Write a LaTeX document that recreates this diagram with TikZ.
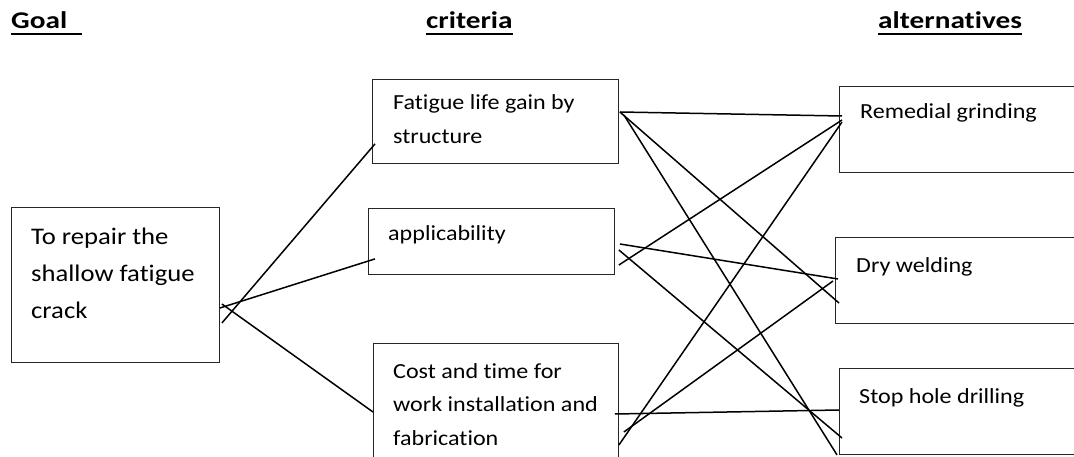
\documentclass[tikz,border=0pt]{standalone}
\usepackage{fontspec}
\setmainfont{Carlito}[FakeStretch=1.12,Ligatures=NoCommon]
\newfontfamily\hdfont{Carlito}[FakeStretch=1.22,Ligatures=NoCommon]
\begin{document}
\begin{tikzpicture}[x=1pt,y=-1pt,
  box/.style={draw=black!85, line width=0.9pt, rectangle, inner sep=0pt, anchor=north west},
  lbl/.style={anchor=base west, inner sep=0pt, align=left, font=\fontsize{21.5}{33.5}\selectfont},
  goallbl/.style={anchor=base west, inner sep=0pt, align=left, font=\fontsize{23.8}{37}\selectfont},
  hdr/.style={anchor=base west, inner sep=0pt, font=\hdfont\bfseries\fontsize{24}{28}\selectfont},
  uline/.style={line width=2pt},
  link/.style={line width=1.5pt, black}]
\useasboundingbox (0,0) rectangle (1074,457);
\clip (0,0) rectangle (1074,457);
% headers
\node[hdr] (hgoal) at (11,28.3) {Goal};
\node[hdr] (hcrit) at (426,28.3) {criteria};
\node[hdr] (halt) at (878,28.3) {alternatives};
\draw[uline] ([yshift=-6pt]hgoal.base west) -- ([xshift=15pt,yshift=-6pt]hgoal.base east);
\draw[uline] ([yshift=-6pt]hcrit.base west) -- ([yshift=-6pt]hcrit.base east);
\draw[uline] ([yshift=-6pt]halt.base west) -- ([yshift=-6pt]halt.base east);
% boxes
\node[box, minimum width=208pt, minimum height=155pt] (goal) at (11,207) {};
\node[box, minimum width=246pt, minimum height=84pt] (fat) at (372,79) {};
\node[box, minimum width=246pt, minimum height=66pt] (app) at (368,208) {};
\node[box, minimum width=245pt, minimum height=130pt] (cost) at (373,343) {};
\node[box, minimum width=260pt, minimum height=86pt] (rg) at (839,86) {};
\node[box, minimum width=260pt, minimum height=86pt] (dw) at (835,237) {};
\node[box, minimum width=260pt, minimum height=86pt] (sh) at (839,368) {};
% labels (base = last line)
\node[goallbl] (tgoal) at (31,318.3) {To repair the\\shallow fatigue\\crack};
\node[lbl] (tfat) at (393,143.3) {Fatigue life gain by\\structure};
\node[lbl] (tapp) at (388,241) {applicability};
\node[lbl] (tcost) at (393,445) {Cost and time for\\work installation and\\fabrication};
\node[lbl] (trg) at (860,119) {Remedial grinding};
\node[lbl] (tdw) at (856,272.7) {Dry welding};
\node[lbl] (tsh) at (859,403.3) {Stop hole drilling};
% goal to criteria
\draw[link] ([shift={(2,116)}]goal.north east) -- ([shift={(3,-20)}]fat.south west);
\draw[link] ([shift={(0,101)}]goal.north east) -- ([shift={(7,-16)}]app.south west);
\draw[link] ([shift={(2,97)}]goal.north east) -- ([shift={(0,69)}]cost.north west);
% criteria to alternatives
\draw[link] ([shift={(1,33)}]fat.north east) -- ([shift={(3,30)}]rg.north west);
\draw[link] ([shift={(1,33)}]fat.north east) -- ([shift={(4,66)}]dw.north west);
\draw[link] ([shift={(5,36)}]fat.north east) -- ([shift={(-2,0)}]sh.south west);
\draw[link] ([shift={(5,36)}]app.north east) -- ([shift={(3,42)}]dw.north west);
\draw[link] ([shift={(4,42)}]app.north east) -- ([shift={(3,70)}]sh.north west);
\draw[link] ([shift={(4,57)}]app.north east) -- ([shift={(3,34)}]rg.north west);
\draw[link] ([shift={(-4,71)}]cost.north east) -- ([shift={(0,42)}]sh.north west);
\draw[link] ([shift={(0,102)}]cost.north east) -- ([shift={(3,36)}]rg.north west);
\draw[link] ([shift={(5,89)}]cost.north east) -- ([shift={(-2,44)}]dw.north west);
\end{tikzpicture}
\end{document}
